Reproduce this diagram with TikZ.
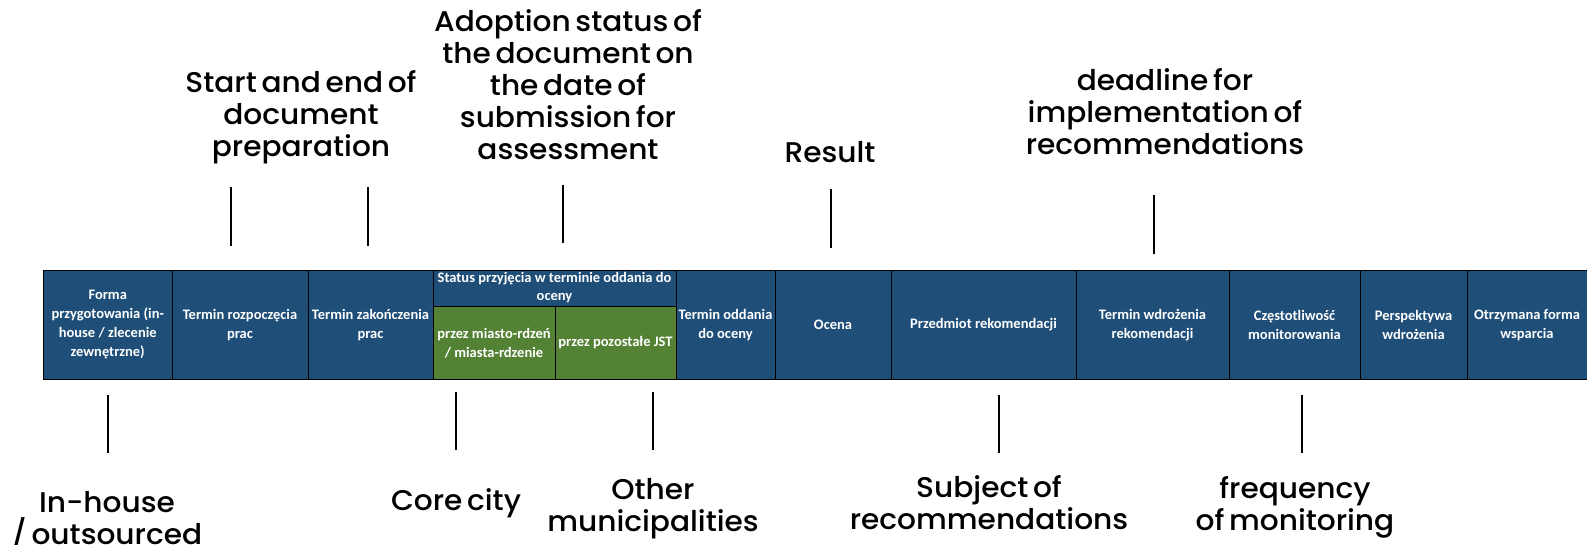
\documentclass[tikz,border=0pt]{standalone}
\usepackage{fontspec}
\setmainfont{Carlito}
\newfontfamily\labelfont{Poppins Medium}[WordSpace=0.6,FakeStretch=1.04]
\usetikzlibrary{positioning}

\definecolor{cellblue}{HTML}{1F4E79}
\definecolor{cellgreen}{HTML}{548235}

\tikzset{
  tblcell/.style={draw=black, line width=0.8pt, fill=cellblue, text=white, align=center, inner sep=2pt, minimum height=109.5pt, font=\bfseries\fontsize{14.5}{19}\selectfont},
  subcell/.style={tblcell, fill=cellgreen, minimum height=73.5pt},
  headcell/.style={tblcell, minimum height=36pt, font=\bfseries\fontsize{14.5}{18}\selectfont},
  lbl/.style={align=center, inner sep=0pt, font=\labelfont\fontsize{28.5}{32}\selectfont},
  tickline/.style={line width=1.2pt}
}

\begin{document}
\begin{tikzpicture}[x=1pt,y=-1pt]
\useasboundingbox (0,0) rectangle (1587,545);

% table row
\node[tblcell, minimum width=128.5pt](forma) at (107.75,324.75){Forma\\przygotowania (in-\\house / zlecenie\\zewnętrzne)};
\node[tblcell, minimum width=136pt](rozp) at (240,324.75){Termin rozpoczęcia\\prac};
\node[tblcell, minimum width=125pt](zak) at (370.5,324.75){Termin zakończenia\\prac};
\node[headcell, minimum width=243pt](status) at (554.5,288){Status przyjęcia w terminie oddania do\\oceny};
\node[subcell, minimum width=122pt](miasto) at (494,342.75){przez miasto-rdzeń\\/ miasta-rdzenie};
\node[subcell, minimum width=121pt](jst) at (615.5,342.75){przez pozostałe JST};
\node[tblcell, minimum width=99pt](oddania) at (725.5,324.75){Termin oddania\\do oceny};
\node[tblcell, minimum width=116pt](ocena) at (833,324.75){Ocena};
\node[tblcell, minimum width=185pt](przedmiot) at (983.5,324.75){Przedmiot rekomendacji};
\node[tblcell, minimum width=153pt](wdroz) at (1152.5,324.75){Termin wdrożenia\\rekomendacji};
\node[tblcell, minimum width=131pt](czest) at (1294.5,324.75){Częstotliwość\\monitorowania};
\node[tblcell, minimum width=107pt](persp) at (1413.5,324.75){Perspektywa\\wdrożenia};
\node[tblcell, minimum width=120pt](otrzym) at (1527,324.75){Otrzymana forma\\wsparcia};

% labels above
\node[lbl](startend) at (301,117){Start and end of\\document\\preparation};
\node[lbl](adoption) at (568,85){Adoption status of\\the document on\\the date of\\submission for\\assessment};
\node[lbl](result) at (830,152){Result};
\node[lbl](deadline) at (1165,112){deadline for\\implementation of\\recommendations};

% labels below
\node[lbl](inhouse) at (107,520){In-house\\/ outsourced};
\node[lbl](corecity) at (456,503){Core city};
\node[lbl](othermun) at (653,509){Other\\municipalities};
\node[lbl](subject) at (989,503){Subject of\\recommendations};
\node[lbl](frequency) at (1295,507){frequency\\of monitoring};

% tick ends
\coordinate (startT) at (231,187);
\coordinate (startB) at (231,246);
\coordinate (endT) at (368,187);
\coordinate (endB) at (368,246);
\coordinate (adoptT) at (563,185);
\coordinate (adoptB) at (563,243);
\coordinate (resultT) at (831,189);
\coordinate (resultB) at (831,248);
\coordinate (deadT) at (1154,195);
\coordinate (deadB) at (1154,254);
\coordinate (inhouseT) at (108,395);
\coordinate (inhouseB) at (108,453);
\coordinate (coreT) at (456,392);
\coordinate (coreB) at (456,450);
\coordinate (otherT) at (653,392);
\coordinate (otherB) at (653,450);
\coordinate (subjT) at (999,395);
\coordinate (subjB) at (999,453);
\coordinate (freqT) at (1302,395);
\coordinate (freqB) at (1302,453);

\path[tickline]
(startT) edge (startB)
(endT) edge (endB)
(adoptT) edge (adoptB)
(resultT) edge (resultB)
(deadT) edge (deadB)
(inhouseT) edge (inhouseB)
(coreT) edge (coreB)
(otherT) edge (otherB)
(subjT) edge (subjB)
(freqT) edge (freqB);
\end{tikzpicture}
\end{document}
